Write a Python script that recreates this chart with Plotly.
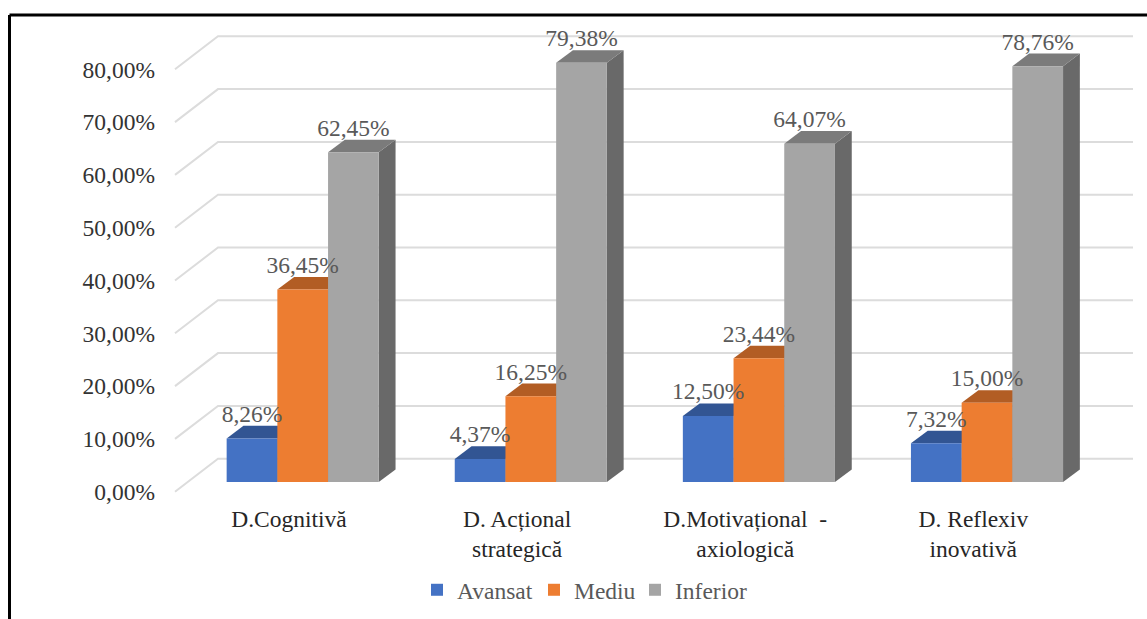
import plotly.graph_objects as go

# Chart data
categories = ["D.Cognitivă", "D. Acțional<br>strategică", "D.Motivațional  -<br>axiologică", "D. Reflexiv<br>inovativă"]
avansat = [8.26, 4.37, 12.50, 7.32]
mediu = [36.45, 16.25, 23.44, 15.00]
inferior = [62.45, 79.38, 64.07, 78.76]
tick_values = [0, 10, 20, 30, 40, 50, 60, 70, 80]

series = [
    ("Avansat", avansat, "#4472C4", "#325593", "#2A4A80"),
    ("Mediu", mediu, "#ED7D31", "#B25D24", "#8E4A1D"),
    ("Inferior", inferior, "#A5A5A5", "#7B7B7B", "#696969"),
]

# Page and plot geometry, in pixels
W, H = 1147, 619
LEFT, RIGHT, TOP, BOTTOM = 170, 1140, 20, 500
PX_PER_UNIT = 5.28
PX_PER_CAT = 228.1
FIRST_CAT_PX = 289.0
AXIS_ZERO_PX = 491.7
BAR_ZERO_PX = 482.0
LEGEND_X_PX = [417, 534, 635]
LEGEND_Y_PX = 568

def u(px):
    return (px - FIRST_CAT_PX) / PX_PER_CAT

bar_w = 50.7 / PX_PER_CAT
group_shift = 13.7 / PX_PER_CAT
depth_x = 16.8 / PX_PER_CAT
depth_y = 12.6 / PX_PER_UNIT
wall_rise = 33.0 / PX_PER_UNIT
FONT = "Liberation Serif"

fig = go.Figure()

# Wall gridlines, each bending back from the front-left edge
gx, gy = [], []
for v in tick_values:
    gx += [u(175), u(218), u(1133), None]
    gy += [v, v + wall_rise, v + wall_rise, None]
fig.add_trace(go.Scatter(x=gx, y=gy, mode="lines", line=dict(color="#DCDCDC", width=2),
                         showlegend=False, hoverinfo="skip", yaxis="y"))

# Bars: side and top faces sit under the front face of the same series
for k, (name, values, front, top, side) in enumerate(series):
    offset = group_shift + (k - 1) * bar_w
    layer = 1 + 2 * k
    for i, h in enumerate(values):
        x0 = i + offset - bar_w / 2
        x1 = x0 + bar_w
        fig.add_trace(go.Scatter(
            x=[x1, x1 + depth_x, x1 + depth_x, x1, x1],
            y=[0, depth_y, h + depth_y, h, 0],
            mode="lines", fill="toself", fillcolor=side, line=dict(width=0),
            showlegend=False, hoverinfo="skip", yaxis="y2", zorder=layer))
        fig.add_trace(go.Scatter(
            x=[x0, x0 + depth_x, x1 + depth_x, x1, x0],
            y=[h, h + depth_y, h + depth_y, h, h],
            mode="lines", fill="toself", fillcolor=top, line=dict(width=0),
            showlegend=False, hoverinfo="skip", yaxis="y2", zorder=layer))
    fig.add_trace(go.Bar(
        x=[i + offset for i in range(len(values))], y=values, width=bar_w, name=name,
        legend="legend" if k == 0 else f"legend{k + 1}",
        marker=dict(color=front, line=dict(width=0)), yaxis="y2", zorder=layer + 1))

# Value labels above each bar
for k, (name, values, *_rest) in enumerate(series):
    offset = group_shift + (k - 1) * bar_w
    fig.add_trace(go.Scatter(
        x=[i + offset for i in range(len(values))],
        y=[h + 22.5 / PX_PER_UNIT for h in values],
        text=[f"{h:.2f}%".replace(".", ",") for h in values],
        mode="text", textposition="middle center",
        textfont=dict(family=FONT, size=23.5, color="#595959"),
        showlegend=False, hoverinfo="skip", yaxis="y2", zorder=10))

def paper_x(px):
    return (px - LEFT) / (RIGHT - LEFT)

def paper_y(px):
    return (BOTTOM - px) / (BOTTOM - TOP)

def legend_at(px):
    return dict(orientation="h", xref="container", yref="container",
                x=px / W, y=1 - LEGEND_Y_PX / H, xanchor="left", yanchor="top",
                font=dict(family=FONT, size=23.5, color="#595959"),
                bgcolor="rgba(0,0,0,0)")

fig.update_layout(
    width=W, height=H, autosize=False,
    margin=dict(l=LEFT, r=W - RIGHT, t=TOP, b=H - BOTTOM, pad=0, autoexpand=False),
    paper_bgcolor="white", plot_bgcolor="white",
    barmode="overlay",
    xaxis=dict(range=[u(LEFT), u(RIGHT)], tickvals=list(range(len(categories))),
               ticktext=categories, showgrid=False, zeroline=False, showline=False, ticks="",
               tickfont=dict(family=FONT, size=23.5, color="#262626"), ticklabelstandoff=2),
    yaxis=dict(range=[(AXIS_ZERO_PX - BOTTOM) / PX_PER_UNIT, (AXIS_ZERO_PX - TOP) / PX_PER_UNIT],
               tickvals=tick_values, ticktext=[f"{v},00%" for v in tick_values],
               showgrid=False, zeroline=False, showline=False, ticks="",
               tickfont=dict(family=FONT, size=23.5, color="#333333"), ticklabelstandoff=14),
    yaxis2=dict(range=[(BAR_ZERO_PX - BOTTOM) / PX_PER_UNIT, (BAR_ZERO_PX - TOP) / PX_PER_UNIT],
                overlaying="y", side="left", visible=False),
    legend=legend_at(LEGEND_X_PX[0]),
    legend2=legend_at(LEGEND_X_PX[1]),
    legend3=legend_at(LEGEND_X_PX[2]),
    shapes=[
        dict(type="line", xref="paper", yref="paper", x0=paper_x(9.5), x1=paper_x(9.5),
             y0=paper_y(H), y1=paper_y(15), line=dict(color="black", width=3)),
        dict(type="line", xref="paper", yref="paper", x0=paper_x(9.5), x1=paper_x(W),
             y0=paper_y(15), y1=paper_y(15), line=dict(color="black", width=3)),
    ],
)

fig.write_html("out.html", config=dict(displayModeBar=False))
